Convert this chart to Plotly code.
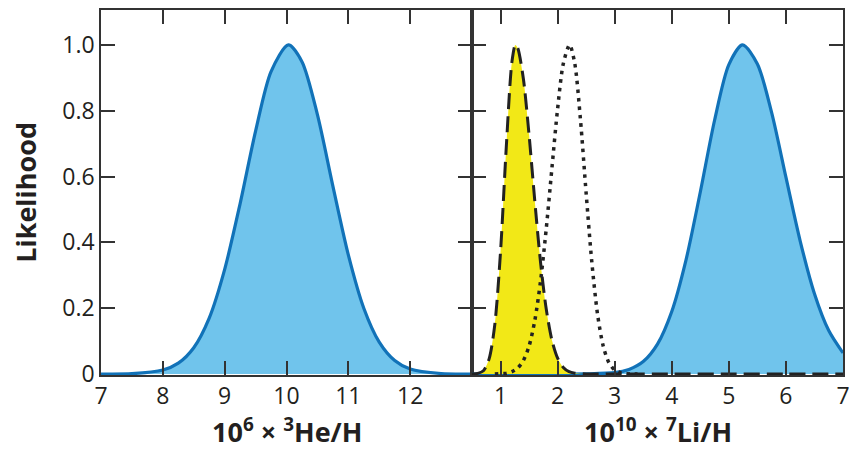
import plotly.graph_objects as go

# ---- data ----
he3_x = [7.0, 7.5, 8.0, 8.25, 8.5, 8.75, 9.0, 9.25, 9.5, 9.75, 10.03, 10.25, 10.5, 10.75, 11.0, 11.25, 11.5, 11.75, 12.0, 12.5, 13.0]
he3_y = [0.0, 0.001, 0.012, 0.033, 0.080, 0.170, 0.318, 0.518, 0.738, 0.919, 1.0, 0.949, 0.788, 0.571, 0.362, 0.200, 0.097, 0.041, 0.015, 0.0014, 0.0]

li_obs_x = [0.5, 1.0, 1.5, 2.0, 2.5, 3.0, 3.25, 3.5, 3.75, 4.0, 4.25, 4.5, 4.75, 5.0, 5.24, 5.5, 5.75, 6.0, 6.25, 6.5, 6.75, 7.0]
li_obs_y = [0.0, 0.0, 0.0, 0.0, 0.0005, 0.004, 0.014, 0.038, 0.091, 0.190, 0.347, 0.553, 0.771, 0.940, 1.0, 0.942, 0.794, 0.598, 0.404, 0.244, 0.132, 0.064]

li_dash_x = [0.5, 0.6, 0.7, 0.8, 0.9, 1.0, 1.1, 1.2, 1.26, 1.3, 1.4, 1.5, 1.6, 1.7, 1.8, 1.9, 2.0, 2.1, 2.2, 2.3, 2.5, 3.0, 4.0, 5.0, 6.0, 7.0]
li_dash_y = [0.0002, 0.002, 0.010, 0.046, 0.151, 0.372, 0.688, 0.949, 1.0, 0.991, 0.897, 0.726, 0.526, 0.341, 0.198, 0.103, 0.048, 0.020, 0.007, 0.0025, 0.0, 0.0, 0.0, 0.0, 0.0, 0.0]

li_dot_x = [0.9, 1.0, 1.1, 1.2, 1.3, 1.4, 1.5, 1.6, 1.7, 1.8, 1.9, 2.0, 2.1, 2.21, 2.3, 2.4, 2.5, 2.6, 2.7, 2.8, 2.9, 3.0, 3.1, 3.2, 3.4]
li_dot_y = [0.0, 0.001, 0.002, 0.007, 0.018, 0.041, 0.085, 0.162, 0.281, 0.440, 0.625, 0.806, 0.943, 1.0, 0.944, 0.773, 0.549, 0.339, 0.181, 0.084, 0.034, 0.012, 0.004, 0.001, 0.0]

he_ticks = [7, 8, 9, 10, 11, 12]
li_ticks = [1, 2, 3, 4, 5, 6, 7]
y_ticks = [0, 0.2, 0.4, 0.6, 0.8, 1.0]
y_labels = ["0", "0.2", "0.4", "0.6", "0.8", "1.0"]

BLUE_LINE = "#1172B8"
BLUE_FILL = "#70C4EC"
YELLOW = "#F2E817"
AX = "#333333"
TXT = "#231F20"
FONT = "Open Sans"

fig = go.Figure()

fig.add_trace(go.Scatter(x=he3_x, y=he3_y, mode="lines", line=dict(color=BLUE_LINE, width=3.2, shape="spline", smoothing=0.8),
                         fill="tozeroy", fillcolor=BLUE_FILL, xaxis="x", yaxis="y", hoverinfo="skip"))
fig.add_trace(go.Scatter(x=li_obs_x, y=li_obs_y, mode="lines", line=dict(color=BLUE_LINE, width=3.2, shape="spline", smoothing=0.8),
                         fill="tozeroy", fillcolor=BLUE_FILL, xaxis="x2", yaxis="y2", hoverinfo="skip"))
fig.add_trace(go.Scatter(x=li_dash_x, y=li_dash_y, mode="lines", line=dict(color="rgba(0,0,0,0)", width=0, shape="spline", smoothing=0.8),
                         fill="tozeroy", fillcolor=YELLOW, xaxis="x2", yaxis="y2", hoverinfo="skip"))
fig.add_trace(go.Scatter(x=li_dot_x, y=li_dot_y, mode="lines", line=dict(color="#222222", width=3.5, dash="3.5px,5px", shape="spline", smoothing=0.8),
                         xaxis="x2", yaxis="y2", hoverinfo="skip"))
fig.add_trace(go.Scatter(x=li_dash_x, y=li_dash_y, mode="lines", line=dict(color="#222222", width=3, dash="16px,7px", shape="spline", smoothing=0.8),
                         xaxis="x2", yaxis="y2", hoverinfo="skip"))

axis_common = dict(showline=True, linecolor=AX, linewidth=1.5, mirror="ticks", ticks="inside", ticklen=14,
                   tickwidth=1.5, tickcolor=AX, showgrid=False, zeroline=False, automargin=False,
                   tickfont=dict(family=FONT, size=23, color=TXT))

fig.update_layout(
    width=853, height=450,
    margin=dict(l=101, r=10, t=10, b=75, autoexpand=False),
    paper_bgcolor="white", plot_bgcolor="white",
    showlegend=False,
    xaxis=dict(domain=[0, 0.5], range=[7, 13], tickvals=he_ticks, ticktext=[str(t) for t in he_ticks], anchor="y", **axis_common),
    yaxis=dict(domain=[0, 1], range=[-0.003, 1.106], tickvals=y_ticks, ticktext=y_labels, anchor="x", **axis_common),
    xaxis2=dict(domain=[0.5, 1.0], range=[0.5, 7], tickvals=li_ticks, ticktext=[str(t) for t in li_ticks], anchor="y2", **axis_common),
    yaxis2=dict(domain=[0, 1], range=[-0.003, 1.106], tickvals=y_ticks, showticklabels=False, anchor="x2", **axis_common),
)

title_font = dict(family=FONT, size=27, color=TXT)
fig.add_annotation(text="<b>10<sup>6</sup> × <sup>3</sup>He/H</b>", xref="paper", yref="paper", x=0.25, y=-0.153,
                   xanchor="center", yanchor="middle", showarrow=False, font=title_font)
fig.add_annotation(text="<b>10<sup>10</sup> × <sup>7</sup>Li/H</b>", xref="paper", yref="paper", x=0.75, y=-0.153,
                   xanchor="center", yanchor="middle", showarrow=False, font=title_font)
fig.add_annotation(text="<b>Likelihood</b>", xref="paper", yref="paper", x=-0.102, y=0.5, textangle=-90,
                   xanchor="center", yanchor="middle", showarrow=False, font=title_font)

fig.write_html("out.html", config={"displayModeBar": False},
               post_script="document.body.style.margin='0';document.body.style.overflow='hidden';")
